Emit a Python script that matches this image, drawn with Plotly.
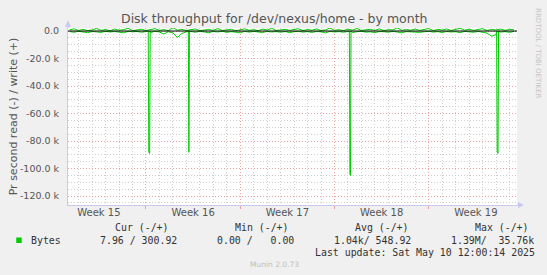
import plotly.graph_objects as go
import pandas as pd

# ---------------- data ----------------
base_start = "2025-04-08 08:00"   # 8-hour samples
write_k = [
    0.9, 1.6, 0.4, 1.2, 0.3, 0.8, 1.9, 0.5, 1.1, 0.2,
    1.4, 0.6, 0.9, 2.1, 0.3, 0.7, 1.3, 0.4, 0.8, 1.7,
    0.5, 1.0, 0.3, 2.4, 0.6, 1.2, 0.4, 0.9, 1.5, 0.3,
    0.8, 1.1, 0.5, 1.8, 0.4, 0.7, 1.3, 0.2, 0.9, 1.6,
    0.5, 1.0, 0.3, 1.4, 0.7, 2.0, 0.4, 0.8, 1.2, 0.5,
    0.9, 1.7, 0.3, 1.1, 0.6, 1.5, 0.4, 0.8, 2.2, 0.5,
    1.0, 0.3, 1.3, 0.7, 1.9, 0.4, 0.9, 1.2, 0.5, 1.6,
    0.3, 1.0, 0.8, 2.3, 0.4, 1.1, 0.6, 1.4, 0.5, 0.9,
    1.8, 0.3, 1.2, 0.7, 1.5, 0.4, 1.0, 2.0, 0.6, 1.3,
    0.5, 0.9, 1.7, 0.4, 1.1, 0.8, 1.4, 0.5, 1.2, 0.9,
]
read_k = [
    0.4, 0.9, 0.2, 0.6, 1.2, 0.3, 0.5, 1.0, 0.2, 0.7,
    0.3, 0.8, 1.3, 0.2, 0.6, 0.3, 0.9, 0.4, 1.1, 0.2,
    0.7, 2.2, 0.5, 1.4, 4.6, 1.8, 0.6, 0.3, 0.9, 0.2,
    0.5, 1.2, 0.3, 0.7, 0.2, 1.0, 0.4, 0.6, 1.3, 0.2,
    0.8, 0.3, 0.5, 1.1, 0.2, 0.7, 0.4, 0.9, 0.3, 1.2,
    0.5, 0.2, 0.8, 0.4, 1.0, 0.3, 0.6, 1.4, 0.2, 0.7,
    0.4, 0.9, 0.3, 1.1, 0.5, 0.2, 0.8, 0.6, 1.2, 0.3,
    0.5, 0.9, 0.2, 0.7, 1.3, 0.4, 0.6, 0.3, 1.0, 0.5,
    0.2, 0.8, 0.4, 1.1, 0.3, 0.7, 0.5, 1.2, 0.2, 0.6,
    0.9, 0.3, 0.7, 1.5, 3.8, 2.6, 0.8, 0.4, 1.0, 0.3,
]
spike_times = [
    "2025-04-14 04:00", "2025-04-14 05:00", "2025-04-14 06:30", "2025-04-14 07:30",
    "2025-04-17 03:30", "2025-04-17 04:30", "2025-04-17 05:30",
    "2025-04-29 02:30", "2025-04-29 03:30", "2025-04-29 04:30", "2025-04-29 05:30",
    "2025-05-10 01:00", "2025-05-10 02:00", "2025-05-10 03:30", "2025-05-10 04:30",
]
spike_read_k = [
    0, 88.0, 89.0, 0,
    0, 88.2, 0,
    0, 104.0, 105.0, 0,
    0, 88.0, 89.0, 0,
]
week_mondays = ["2025-04-14", "2025-04-21", "2025-04-28", "2025-05-05"]
week_centers = ["2025-04-10 12:00", "2025-04-17 12:00", "2025-04-24 12:00",
                "2025-05-01 12:00", "2025-05-08 12:00"]
week_labels = ["Week 15", "Week 16", "Week 17", "Week 18", "Week 19"]
x_range = ["2025-04-08 05:00", "2025-05-11 13:20"]
y_tickvals = [0, -20000, -40000, -60000, -80000, -100000, -120000]
y_ticktext = ["0.0", "-20.0 k", "-40.0 k", "-60.0 k", "-80.0 k", "-100.0 k", "-120.0 k"]
y_range = [-126500, 2200]

legend_header = ["Cur (-/+)", "Min (-/+)", "Avg (-/+)", "Max (-/+)"]
legend_values = ["7.96 / 300.92", "0.00 /   0.00", "1.04k/ 548.92", "1.39M/  35.76k"]
last_update = "Last update: Sat May 10 12:00:14 2025"

# ---------------- build series ----------------
base_times = pd.date_range(base_start, periods=len(write_k), freq="8h")
read_df = pd.concat([
    pd.DataFrame({"t": base_times, "v": [-v * 1000 for v in read_k]}),
    pd.DataFrame({"t": pd.to_datetime(spike_times), "v": [-v * 1000 for v in spike_read_k]}),
]).sort_values("t")

GREEN = "#00cc00"
fig = go.Figure()
fig.add_trace(go.Scatter(x=read_df["t"], y=read_df["v"], mode="lines",
                         line=dict(color=GREEN, width=1), showlegend=False, hoverinfo="skip"))
fig.add_trace(go.Scatter(x=base_times, y=[v * 1000 for v in write_k], mode="lines",
                         line=dict(color=GREEN, width=1), showlegend=False, hoverinfo="skip"))
fig.add_trace(go.Scatter(x=week_centers, y=[None] * len(week_centers), xaxis="x2",
                         mode="lines", showlegend=False, hoverinfo="skip"))

W, H = 547, 275
L, R, T, B = 66, 30, 28, 70
PW, PH = W - L - R, H - T - B


def px(x):
    return (x - L) / PW


def py(y):
    return (H - B - y) / PH


AX = "#c8c8f0"
MAJ = "#eaa4a4"
MIN = "#cfcfcf"
TXT = "#555555"
DOT = "1px,2px"

fig.update_layout(
    width=W, height=H,
    margin=dict(l=L, r=R, t=T, b=B, pad=0),
    paper_bgcolor="#f0f0f0", plot_bgcolor="#ffffff",
    font=dict(family="DejaVu Sans", size=10, color=TXT),
    xaxis=dict(type="date", range=x_range, tickmode="array", tickvals=week_mondays,
               showticklabels=False, showgrid=True, gridcolor=MAJ, griddash=DOT, gridwidth=1,
               ticks="outside", ticklen=3, tickcolor=MAJ,
               minor=dict(dtick=86400000, tick0="2025-04-07", showgrid=True,
                          gridcolor=MIN, griddash=DOT, gridwidth=1, ticks=""),
               showline=True, linecolor=AX, linewidth=1, zeroline=False, fixedrange=True),
    xaxis2=dict(type="date", range=x_range, overlaying="x", anchor="y", side="bottom",
                tickmode="array", tickvals=week_centers, ticktext=week_labels,
                showgrid=False, showline=False, ticks="", zeroline=False,
                tickfont=dict(size=10, color=TXT, family="DejaVu Sans")),
    yaxis=dict(range=y_range, tickmode="array", tickvals=y_tickvals, ticktext=y_ticktext,
               showgrid=True, gridcolor=MAJ, griddash=DOT, gridwidth=1,
               minor=dict(tickmode="linear", tick0=0, dtick=5000, showgrid=True,
                          gridcolor=MIN, griddash=DOT, gridwidth=1),
               ticks="", ticklabelstandoff=6,
               tickfont=dict(size=9.5, color=TXT, family="DejaVu Sans"),
               showline=True, linecolor=AX, linewidth=1, zeroline=False,
               title=dict(text="Pr second read (-) / write (+)", standoff=0,
                          font=dict(size=11, color=TXT, family="DejaVu Sans"))),
    showlegend=False,
)

shapes = [
    # zero line on top
    dict(type="line", xref="paper", yref="y", x0=0, x1=1, y0=0, y1=0,
         line=dict(color="#000000", width=1), layer="above"),
    # y axis extension + arrow
    dict(type="line", xref="paper", yref="paper", x0=px(66), x1=px(66), y0=1, y1=py(23),
         line=dict(color=AX, width=1)),
    dict(type="path", xref="paper", yref="paper",
         path=f"M {px(63)} {py(27)} L {px(69)} {py(27)} L {px(66)} {py(20.5)} Z",
         fillcolor=AX, line=dict(color=AX, width=0)),
    # x axis extension + arrow
    dict(type="line", xref="paper", yref="paper", x0=1, x1=px(520), y0=0, y1=0,
         line=dict(color=AX, width=1)),
    dict(type="path", xref="paper", yref="paper",
         path=f"M {px(518)} {py(202)} L {px(518)} {py(208)} L {px(524)} {py(205)} Z",
         fillcolor=AX, line=dict(color=AX, width=0)),
    # legend colour box
    dict(type="rect", xref="paper", yref="paper", x0=px(14), x1=px(19.5), y0=py(237.5), y1=py(243),
         fillcolor=GREEN, line=dict(color=GREEN, width=0)),
]
fig.update_layout(shapes=shapes)

MONO = "DejaVu Sans Mono"
LEG = "#333333"
ann = []
ann.append(dict(text="Disk throughput for /dev/nexus/home - by month", x=px(273), y=py(19),
                xanchor="center", yanchor="middle",
                font=dict(family="DejaVu Sans", size=12.5, color=TXT)))
ann.append(dict(text="RRDTOOL / TOBI OETIKER", x=px(538), y=py(53), textangle=90,
                xanchor="center", yanchor="middle",
                font=dict(family="DejaVu Sans", size=7, color="#c4c4c4")))
for txt, x0 in zip(legend_header, [111.7, 231.9, 352.3, 472.7]):
    ann.append(dict(text=txt.replace(" ", "\u00a0"), x=px(x0), y=py(227.3),
                    xanchor="left", yanchor="middle",
                    font=dict(family=MONO, size=9.9, color=LEG)))
ann.append(dict(text="Bytes", x=px(26.5), y=py(240.3), xanchor="left", yanchor="middle",
                font=dict(family=MONO, size=9.9, color=LEG)))
for txt, x0 in zip(legend_values, [96, 213.4, 330.8, 448.7]):
    ann.append(dict(text=txt.replace(" ", "\u00a0"), x=px(x0), y=py(240.3),
                    xanchor="left", yanchor="middle",
                    font=dict(family=MONO, size=9.9, color=LEG)))
ann.append(dict(text=last_update.replace(" ", "\u00a0"), x=px(311.7), y=py(252.5),
                xanchor="left", yanchor="middle",
                font=dict(family=MONO, size=9.9, color=LEG)))
ann.append(dict(text="Munin 2.0.73", x=px(273), y=py(264), xanchor="center", yanchor="middle",
                font=dict(family="DejaVu Sans", size=7.5, color="#c0c0c0")))
for a in ann:
    a.update(xref="paper", yref="paper", showarrow=False)
fig.update_layout(annotations=ann)

fig.write_html("out.html")
